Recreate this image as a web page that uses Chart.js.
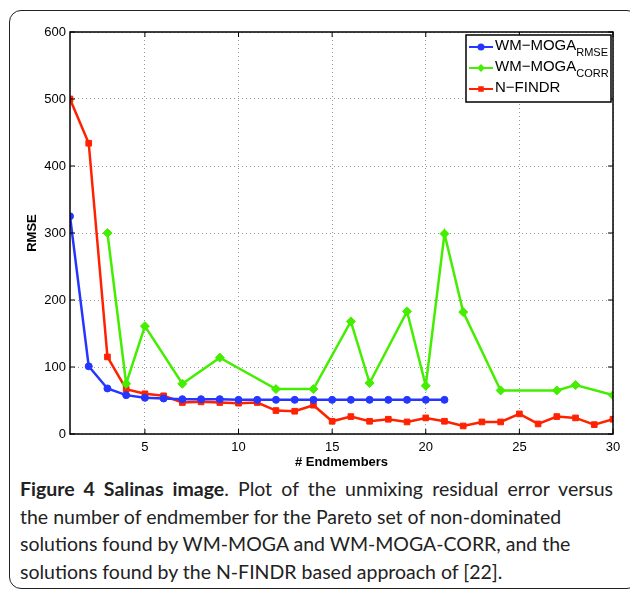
<!DOCTYPE html>
<html>
<head>
<meta charset="utf-8">
<script src="https://cdn.jsdelivr.net/npm/chart.js@4.4.0/dist/chart.umd.min.js"></script>
<style>
  body { margin: 0; background: #fff; }
  #wrap { position: relative; width: 630px; height: 590px; overflow: hidden; }
  #frame { position: absolute; left: 9px; top: 10px; width: 630px; height: 579px;
           border: 1.5px solid #222; border-radius: 12px; box-sizing: border-box; }
  #chartBox { position: absolute; left: 0; top: 0; width: 630px; height: 470px; }
  #caption { position: absolute; left: 20px; top: 475px; width: 593px; white-space: nowrap;
             font-family: "Lato", "Noto Sans", sans-serif; font-size: 19.5px; line-height: 27.5px; color: #222; }
  #caption .j { text-align: justify; text-align-last: justify; }
  #caption b { font-weight: bold; }
</style>
</head>
<body>
<div id="wrap">
  <div id="frame"></div>
  <div id="chartBox"><canvas id="myChart" width="630" height="470"></canvas></div>
  <div id="caption">
    <div class="j"><b>Figure 4 Salinas image</b>. Plot of the unmixing residual error versus</div>
    <div>the number of endmember for the Pareto set of non-dominated</div>
    <div>solutions found by WM-MOGA and WM-MOGA-CORR, and the</div>
    <div>solutions found by the N-FINDR based approach of [22].</div>
  </div>
</div>
<script>
let endmembers = [1, 2, 3, 4, 5, 6, 7, 8, 9, 10, 11, 12, 13, 14, 15, 16, 17, 18, 19, 20, 21, 22, 23, 24, 25, 26, 27, 28, 29, 30]
let rmseValues = [325, 101, 68, 58, 54, 53, 52, 52, 52, 51, 51, 51, 51, 51, 51, 51, 51, 51, 51, 51, 51, null, null, null, null, null, null, null, null, null]
let corrValues = [null, null, 300, 75, 161, null, 75, null, 114, null, null, 67, null, 67, null, 168, 76, null, 183, 72, 299, 182, null, 65, null, null, 65, 73, null, 58]
let nfindrValues = [500, 434, 115, 67, 60, 57, 47, 48, 47, 46, 47, 35, 34, 43, 19, 26, 19, 22, 18, 24, 19, 12, 18, 18, 30, 15, 26, 24, 14, 22]
let xTicks = [5, 10, 15, 20, 25, 30]
let yTicks = [0, 100, 200, 300, 400, 500, 600]

// legend entries: main text + subscript
let legendItems = [
    { main: 'WM\u2212MOGA', sub: 'RMSE' },
    { main: 'WM\u2212MOGA', sub: 'CORR' },
    { main: 'N\u2212FINDR', sub: '' }
]

const toPoints = (values) => values.map((v, i) => ({ x: endmembers[i], y: v }))

const tickFont = { family: '"Liberation Sans", Arial, sans-serif', size: 13 }

// black box round the plot + legend with subscripts
const boxAndLegend = {
    id: 'boxAndLegend',
    afterDatasetsDraw(chart) {
        const ctx = chart.ctx
        const a = chart.chartArea
        ctx.save()
        ctx.strokeStyle = '#000'
        ctx.lineWidth = 1.5
        ctx.strokeRect(a.left, a.top, a.right - a.left, a.bottom - a.top)

        // small inward tick marks
        ctx.lineWidth = 1
        const xs = chart.scales.x, ys = chart.scales.y
        xTicks.forEach(v => {
            const px = xs.getPixelForValue(v)
            ctx.beginPath()
            ctx.moveTo(px, a.bottom); ctx.lineTo(px, a.bottom - 5)
            ctx.moveTo(px, a.top); ctx.lineTo(px, a.top + 5)
            ctx.stroke()
        })
        yTicks.forEach(v => {
            const py = ys.getPixelForValue(v)
            ctx.beginPath()
            ctx.moveTo(a.left, py); ctx.lineTo(a.left + 5, py)
            ctx.moveTo(a.right, py); ctx.lineTo(a.right - 5, py)
            ctx.stroke()
        })

        // legend
        const lx = 466, ly = 35, lw = 145, lh = 67
        ctx.fillStyle = '#fff'
        ctx.fillRect(lx, ly, lw, lh)
        ctx.lineWidth = 1.5
        ctx.strokeStyle = '#000'
        ctx.strokeRect(lx, ly, lw, lh)
        legendItems.forEach((item, i) => {
            const ds = chart.data.datasets[i]
            const cy = ly + 12 + i * 21
            ctx.strokeStyle = ds.borderColor
            ctx.lineWidth = 2
            ctx.beginPath()
            ctx.moveTo(lx + 3, cy); ctx.lineTo(lx + 27, cy)
            ctx.stroke()
            ctx.fillStyle = ds.borderColor
            ctx.strokeStyle = ds.borderColor
            Chart.helpers.drawPoint(ctx, { pointStyle: ds.pointStyle, radius: 2.5, borderWidth: 1 }, lx + 15, cy)
            ctx.fillStyle = '#000'
            ctx.textBaseline = 'middle'
            ctx.font = '15px "Liberation Sans", Arial, sans-serif'
            ctx.fillText(item.main, lx + 29, cy - 1)
            if (item.sub) {
                const w = ctx.measureText(item.main).width
                ctx.font = '11px "Liberation Sans", Arial, sans-serif'
                ctx.fillText(item.sub, lx + 29 + w, cy + 6)
            }
        })
        ctx.restore()
    }
}

const initChart = () => {
    const data = {
        datasets: [{
            label: 'WM-MOGA RMSE',
            data: toPoints(rmseValues),
            borderColor: '#2436ff',
            backgroundColor: '#2436ff',
            pointStyle: 'circle',
            pointRadius: 3.5
        }, {
            label: 'WM-MOGA CORR',
            data: toPoints(corrValues),
            borderColor: '#44ee00',
            backgroundColor: '#44ee00',
            pointStyle: 'rectRot',
            pointRadius: 4.5
        }, {
            label: 'N-FINDR',
            data: toPoints(nfindrValues),
            borderColor: '#ff2200',
            backgroundColor: '#ff2200',
            pointStyle: 'rect',
            pointRadius: 4
        }]
    }

    const config = {
        type: 'line',
        data: data,
        plugins: [boxAndLegend],
        options: {
            responsive: false,
            animation: false,
            spanGaps: true,
            elements: {
                line: { borderWidth: 2.5, tension: 0 },
                point: { borderWidth: 1 }
            },
            layout: { padding: { left: 25, right: 17, top: 32, bottom: 0 } },
            plugins: {
                legend: { display: false },
                tooltip: { enabled: false }
            },
            scales: {
                x: {
                    type: 'linear',
                    min: 1,
                    max: 30,
                    afterBuildTicks: (axis) => { axis.ticks = xTicks.map(v => ({ value: v })) },
                    afterFit: (axis) => { axis.height = 36 },
                    grid: { color: '#999', drawTicks: false },
                    border: { display: false, dash: [1, 3] },
                    ticks: { font: tickFont, color: '#000', padding: 6, maxRotation: 0 },
                    title: { display: true, text: '# Endmembers', color: '#000',
                             font: { family: tickFont.family, size: 13, weight: 'bold' }, padding: 0 }
                },
                y: {
                    min: 0,
                    max: 600,
                    afterBuildTicks: (axis) => { axis.ticks = yTicks.map(v => ({ value: v })) },
                    afterFit: (axis) => { axis.width = 45 },
                    grid: { color: '#999', drawTicks: false },
                    border: { display: false, dash: [1, 3] },
                    ticks: { font: tickFont, color: '#000', padding: 4 },
                    title: { display: true, text: 'RMSE', color: '#000',
                             font: { family: tickFont.family, size: 13, weight: 'bold' }, padding: 0 }
                }
            }
        }
    }

    new Chart(document.getElementById('myChart'), config)
}

initChart()
</script>
</body>
</html>
